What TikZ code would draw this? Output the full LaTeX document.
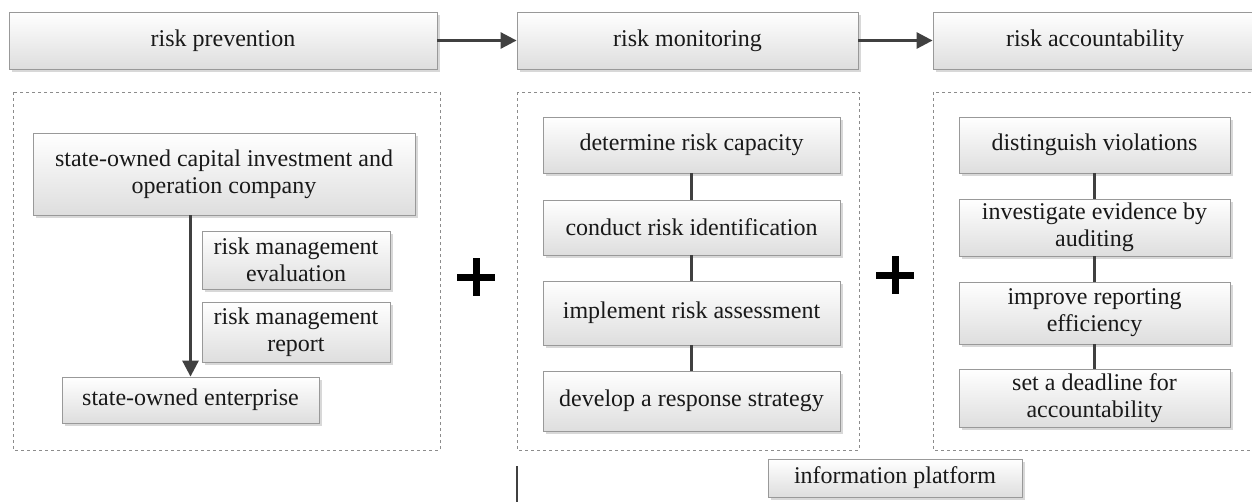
\documentclass[tikz,border=0pt]{standalone}
\usepackage{fontspec}
\setmainfont{Liberation Serif}
\usetikzlibrary{shadows,arrows.meta}

\begin{document}
\begin{tikzpicture}[x=1pt,y=-1pt,
  box/.style={draw=black!40,line width=0.8pt,top color=white,bottom color=black!13,
    drop shadow={shadow xshift=2.5pt,shadow yshift=-2.5pt,fill=black!30,opacity=.5},
    align=center,inner sep=0pt,text=black!90,font=\fontsize{24}{27}\selectfont},
  link/.style={draw=black!75,line width=2.8pt},
  flow/.style={link,-{Triangle[length=16pt,width=16pt]}},
  group/.style={draw=black!45,dashed,line width=0.8pt}]
\useasboundingbox (0,0) rectangle (1252,501);
\clip (0,0) rectangle (1252,501);
\node[box,minimum width=428pt,minimum height=57pt] (prev) at (223,40.5) {risk prevention};
\node[box,minimum width=341pt,minimum height=57pt] (mon) at (687.5,40.5) {risk monitoring};
\node[box,minimum width=324pt,minimum height=57pt] (acc) at (1095,40.5) {risk accountability};
\draw[flow] (prev) -- (mon);
\draw[flow] (mon) -- (acc);
\draw[group] (13,92) rectangle (440,450);
\draw[group] (517,92) rectangle (859,450);
\draw[group] (933,92) rectangle (1262,450);
\node[box,minimum width=382pt,minimum height=82pt] (owner) at (224,174) {state-owned capital investment and\\operation company};
\node[box,minimum width=188pt,minimum height=58pt] (eval) at (296,260) {risk management\\evaluation};
\node[box,minimum width=188pt,minimum height=60pt] (report) at (296,332) {risk management\\report};
\node[box,minimum width=257pt,minimum height=46pt] (soe) at (190.5,400) {state-owned enterprise};
\draw[flow] (owner.south -| soe.north) -- (soe.north);
\node[box,minimum width=297pt,minimum height=56pt] (det) at (691.5,145) {determine risk capacity};
\node[box,minimum width=297pt,minimum height=55pt] (ident) at (691.5,227.5) {conduct risk identification};
\node[box,minimum width=297pt,minimum height=64pt] (assess) at (691.5,313) {implement risk assessment};
\node[box,minimum width=297pt,minimum height=60pt] (resp) at (691.5,401) {develop a response strategy};
\node[box,minimum width=271pt,minimum height=56pt] (dist) at (1094.5,145) {distinguish violations};
\node[box,minimum width=271pt,minimum height=57pt] (audit) at (1094.5,227.5) {investigate evidence by\\auditing};
\node[box,minimum width=271pt,minimum height=62pt] (effic) at (1094.5,313) {improve reporting\\efficiency};
\node[box,minimum width=271pt,minimum height=58pt] (dead) at (1094.5,398) {set a deadline for\\accountability};
\foreach \a/\b in {det/ident,ident/assess,assess/resp,dist/audit,audit/effic,effic/dead}
  \draw[link] (\a) -- (\b);
\draw[line width=7pt] (457,277) -- (495,277) (476,258) -- (476,296);
\draw[line width=7pt] (876,275) -- (914,275) (895,256) -- (895,294);
\node[box,minimum width=254pt,minimum height=38pt] (info) at (895,478) {information platform};
\coordinate (stubtop) at (517,466);
\coordinate (stubend) at (517,505);
\draw[link,line width=2.2pt] (stubtop) -- (stubend);
\end{tikzpicture}
\end{document}
